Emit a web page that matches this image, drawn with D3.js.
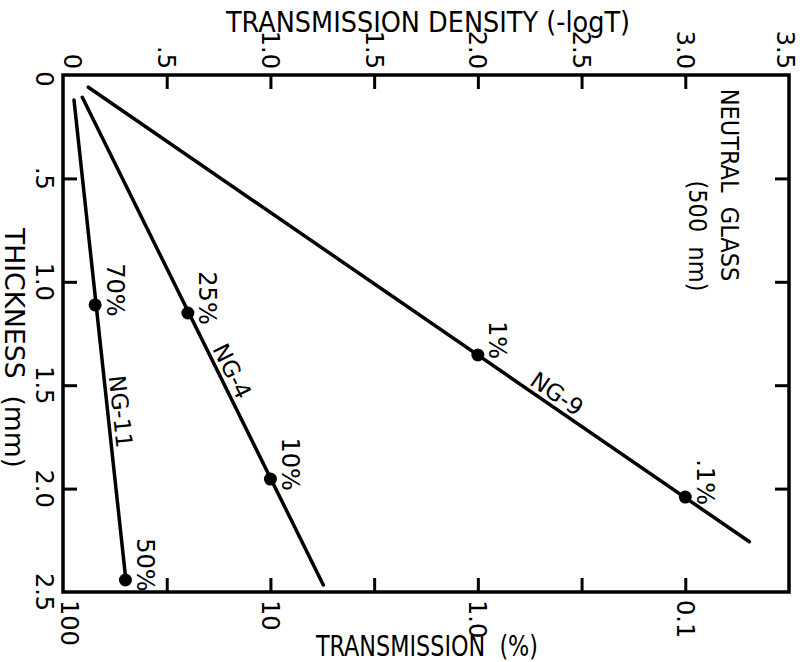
<!DOCTYPE html>
<html><head><meta charset="utf-8">
<script src="https://cdn.jsdelivr.net/npm/d3@7"></script>
<style>
body{margin:0;background:#fff;}
svg text{font-family:"DejaVu Sans Condensed","Liberation Sans Narrow","Liberation Sans",Arial,sans-serif;fill:#000;white-space:pre;}
svg text.num{font-family:"DejaVu Sans","Liberation Sans",Arial,sans-serif;}
</style>
</head><body><svg id="c" width="800" height="662"></svg>
<script>
// ---- data ----
const glassNames = ["NG-11", "NG-4", "NG-9"];
const lineDensity = [[0.053, 0.305], [0.093, 1.255], [0.122, 3.309]];
const lineThickness = [[0.121, 2.46], [0.108, 2.466], [0.059, 2.257]];
const pointTransmission = [[70, 50], [25, 10], [1, 0.1]];
const pointThickness = [[1.112, 2.442], [1.151, 1.954], [1.354, 2.041]];
const pointLabels = [["70%", "50%"], ["25%", "10%"], ["1%", ".1%"]];
const nameThickness = [1.634, 1.46, 1.593];
const densityTicks = [0, 0.5, 1, 1.5, 2, 2.5, 3, 3.5];
const densityTickLabels = ["0", ".5", "1.0", "1.5", "2.0", "2.5", "3.0", "3.5"];
const thicknessTicks = [0, 0.5, 1, 1.5, 2, 2.5];
const thicknessTickLabels = ["0", ".5", "1.0", "1.5", "2.0", "2.5"];
const transmissionTicks = [100, 31.62, 10, 3.162, 1, 0.3162, 0.1, 0.03162];
const transmissionLabelValues = [100, 10, 1, 0.1];
const transmissionTickLabels = ["100", "10", "1.0", "0.1"];
const topTitle = "TRANSMISSION DENSITY (-logT)";
const bottomTitle = "TRANSMISSION  (%)";
const leftTitle = "THICKNESS  (mm)";
const noteLines = ["NEUTRAL  GLASS", "(500  nm)"];

// ---- layout ----
const L = 63, R = 789, T = 75, B = 592;
const svg = d3.select("#c");
const x = d3.scaleLinear().domain([0, 3.5]).range([L, R]);
const y = d3.scaleLinear().domain([0, 2.5]).range([T, B]);
const xT = d3.scaleLog().domain([100, 100 * Math.pow(10, -3.5)]).range([L, R]);

const tickLen = 14;
function styleAxis(g) {
  g.select(".domain").remove();
  g.selectAll(".tick line").attr("stroke", "#000").attr("stroke-width", 3);
  g.selectAll(".tick text").remove();
}
svg.append("g").attr("transform", `translate(0,${T})`)
  .call(d3.axisTop(x).tickValues(densityTicks.slice(1, -1)).tickSize(-tickLen).tickSizeOuter(0)).call(styleAxis);
svg.append("g").attr("transform", `translate(0,${B})`)
  .call(d3.axisBottom(xT).tickValues(transmissionTicks.slice(1, -1)).tickSize(-tickLen).tickSizeOuter(0)).call(styleAxis);
svg.append("g").attr("transform", `translate(${L},0)`)
  .call(d3.axisLeft(y).tickValues(thicknessTicks.slice(1, -1)).tickSize(-tickLen).tickSizeOuter(0)).call(styleAxis);
svg.append("g").attr("transform", `translate(${R},0)`)
  .call(d3.axisRight(y).tickValues(thicknessTicks.slice(1, -1)).tickSize(-tickLen).tickSizeOuter(0)).call(styleAxis);

svg.append("rect").attr("x", L).attr("y", T).attr("width", R - L).attr("height", B - T)
  .attr("fill", "none").attr("stroke", "#000").attr("stroke-width", 3.5);

// tick labels
const fs = 24;
const nT = densityTicks.length;
svg.append("g").selectAll("text").data(densityTicks).join("text").attr("class", "num")
  .attr("transform", (d, i) => `translate(${x(d) + (i === 0 ? 9 : (i === nT - 1 ? -4 : 0))},69) rotate(90)`)
  .attr("text-anchor", "end").attr("dy", "0.35em").attr("font-size", fs)
  .text((d, i) => densityTickLabels[i]);
svg.append("g").selectAll("text").data(thicknessTicks).join("text").attr("class", "num")
  .attr("transform", (d, i) => `translate(36,${y(d) + (i === 0 ? 4 : 0)}) rotate(90)`)
  .attr("text-anchor", "middle").attr("font-size", fs)
  .text((d, i) => thicknessTickLabels[i]);
svg.append("g").selectAll("text").data(transmissionLabelValues).join("text").attr("class", "num")
  .attr("transform", (d, i) => `translate(${xT(d) + (i === 0 ? 6 : 0)},600) rotate(90)`)
  .attr("text-anchor", "start").attr("dy", "0.35em").attr("font-size", fs)
  .text((d, i) => transmissionTickLabels[i]);

// titles
svg.append("text").attr("x", 428).attr("y", 32).attr("text-anchor", "middle")
  .attr("font-size", 29).attr("textLength", 404).attr("lengthAdjust", "spacingAndGlyphs").text(topTitle);
svg.append("text").attr("x", 427).attr("y", 656).attr("text-anchor", "middle")
  .attr("font-size", 29).attr("textLength", 222).attr("lengthAdjust", "spacingAndGlyphs").text(bottomTitle);
svg.append("text").attr("transform", "translate(5,348) rotate(90)").attr("text-anchor", "middle")
  .attr("font-size", 27).attr("textLength", 240).attr("lengthAdjust", "spacingAndGlyphs").text(leftTitle);
svg.append("text").attr("transform", "translate(721,185) rotate(90)").attr("text-anchor", "middle")
  .attr("font-size", 25).text(noteLines[0]);
svg.append("text").attr("transform", "translate(689,236) rotate(90)").attr("text-anchor", "middle")
  .attr("font-size", 25).text(noteLines[1]);

// lines
const lineGen = d3.line().x(d => x(d[0])).y(d => y(d[1]));
glassNames.forEach((name, i) => {
  const pts = lineDensity[i].map((d, j) => [d, lineThickness[i][j]]);
  svg.append("path").attr("d", lineGen(pts)).attr("fill", "none")
    .attr("stroke", "#000").attr("stroke-width", 3.5).attr("stroke-linecap", "round");
  // markers
  pointTransmission[i].forEach((t, j) => {
    const px = xT(t), py = y(pointThickness[i][j]);
    svg.append("circle").attr("cx", px).attr("cy", py).attr("r", 6.5).attr("fill", "#000");
    svg.append("text").attr("class", "num").attr("transform", `translate(${px + 20},${py - 15}) rotate(90)`)
      .attr("text-anchor", "middle").attr("dy", "0.35em").attr("font-size", fs)
      .text(pointLabels[i][j]);
  });
  // name along line
  const x1 = x(pts[0][0]), y1 = y(pts[0][1]), x2 = x(pts[1][0]), y2 = y(pts[1][1]);
  const ang = Math.atan2(y2 - y1, x2 - x1) * 180 / Math.PI;
  const ly = y(nameThickness[i]);
  const lx = x1 + (ly - y1) / (y2 - y1) * (x2 - x1);
  svg.append("text").attr("class", "num").attr("transform", `translate(${lx},${ly}) rotate(${ang})`)
    .attr("text-anchor", "middle").attr("y", -13).attr("dy", "0.35em").attr("font-size", 23)
    .text(name);
});
</script>
</body></html>
